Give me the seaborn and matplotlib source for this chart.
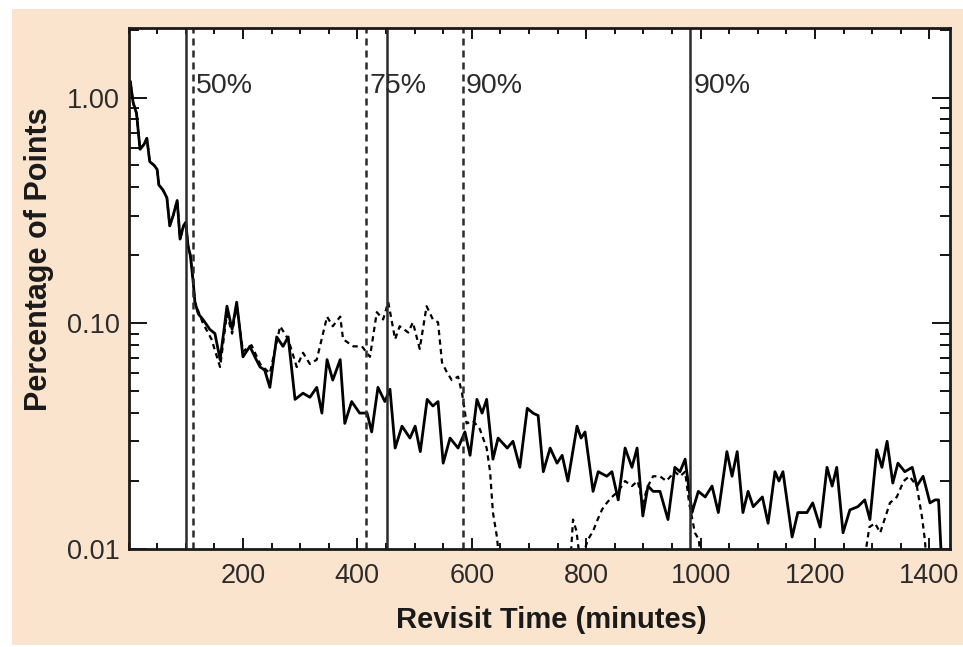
import numpy as np
import matplotlib
matplotlib.use("Agg")
import matplotlib.pyplot as plt
from matplotlib.patches import Rectangle
from matplotlib.ticker import MultipleLocator, FixedLocator, FixedFormatter, LogLocator, NullFormatter
import seaborn as sns

# ── data ─────────────────────────────────────────────────────────────────────
# head of the curve (both series overlap here)
head_t = [0, 3, 8, 14, 20, 27, 32, 37, 45, 50, 53, 60, 67, 72, 78, 85, 90,
          96, 100, 104, 108, 113, 116]
head_v = [1.10, 1.18, 0.95, 0.85, 0.59, 0.62, 0.66, 0.52, 0.50, 0.48, 0.41,
          0.39, 0.36, 0.27, 0.30, 0.35, 0.236, 0.27, 0.28, 0.22, 0.20, 0.152,
          0.124]

solid_t = [122, 130, 142, 151, 160, 166, 172, 181, 189, 200, 212, 222, 230,
           238, 247, 259, 270, 279, 291, 305, 317, 329, 338, 347, 357, 370,
           378, 390, 404, 417, 425, 436, 448, 457, 466, 478, 492, 501, 510,
           522, 532, 541, 550, 562, 576, 588, 597, 609, 618, 626, 637, 646,
           662, 672, 684, 697, 707, 716, 725, 737, 749, 758, 768, 784, 791,
           798, 812, 821, 836, 845, 856, 868, 880, 889, 899, 908, 917, 929,
           943, 955, 964, 973, 985, 996, 1008, 1020, 1031, 1046, 1055, 1064,
           1074, 1083, 1092, 1108, 1118, 1130, 1137, 1144, 1160, 1170, 1186,
           1196, 1209, 1221, 1230, 1238, 1249, 1261, 1275, 1287, 1296, 1308,
           1317, 1326, 1336, 1345, 1357, 1370, 1378, 1389, 1401, 1410, 1416,
           1422]
solid_v = [0.110, 0.104, 0.094, 0.090, 0.069, 0.090, 0.119, 0.094, 0.124,
           0.071, 0.079, 0.070, 0.064, 0.062, 0.052, 0.087, 0.079, 0.087,
           0.046, 0.049, 0.047, 0.052, 0.040, 0.069, 0.056, 0.069, 0.036,
           0.045, 0.040, 0.040, 0.033, 0.052, 0.045, 0.051, 0.028, 0.035,
           0.031, 0.035, 0.027, 0.046, 0.043, 0.045, 0.024, 0.031, 0.028,
           0.033, 0.026, 0.046, 0.040, 0.046, 0.025, 0.031, 0.028, 0.030,
           0.023, 0.042, 0.040, 0.039, 0.022, 0.028, 0.024, 0.026, 0.020,
           0.035, 0.031, 0.033, 0.018, 0.022, 0.021, 0.022, 0.0165, 0.028,
           0.023, 0.028, 0.014, 0.019, 0.018, 0.018, 0.0135, 0.023, 0.022,
           0.025, 0.0145, 0.018, 0.017, 0.019, 0.0145, 0.027, 0.021, 0.027,
           0.0145, 0.018, 0.0154, 0.017, 0.013, 0.022, 0.020, 0.022, 0.0113,
           0.0145, 0.0145, 0.016, 0.0125, 0.023, 0.019, 0.023, 0.0118,
           0.0149, 0.0154, 0.0165, 0.0135, 0.0275, 0.023, 0.030, 0.0196,
           0.024, 0.022, 0.023, 0.019, 0.021, 0.016, 0.0165, 0.0165, 0.008]

dash_t = [130, 145, 160, 172, 181, 189, 200, 215, 230, 247, 265, 279, 294,
          305, 317, 329, 347, 357, 370, 375, 393, 408, 422, 434, 445, 454,
          466, 474, 489, 497, 509, 521, 532, 541, 548, 556, 565, 576, 583,
          591, 602, 614, 626, 632, 637, 644, 652, 770, 777, 783, 789, 795,
          803, 812, 820, 828, 836, 845, 856, 868, 880, 890, 899, 908, 917,
          929, 940, 955, 964, 973, 980, 990, 997, 1003, 1280, 1295, 1305,
          1314, 1331, 1343, 1355, 1365, 1378, 1387, 1392, 1398]
dash_v = [0.100, 0.085, 0.064, 0.110, 0.090, 0.120, 0.075, 0.080, 0.066,
          0.060, 0.097, 0.085, 0.064, 0.074, 0.066, 0.069, 0.107, 0.097,
          0.107, 0.085, 0.079, 0.079, 0.071, 0.112, 0.104, 0.124, 0.085,
          0.097, 0.091, 0.101, 0.077, 0.119, 0.104, 0.101, 0.067, 0.061,
          0.056, 0.058, 0.049, 0.036, 0.037, 0.034, 0.028, 0.022, 0.0145,
          0.0113, 0.007, 0.007, 0.0135, 0.012, 0.009, 0.0095, 0.011, 0.012,
          0.0135, 0.015, 0.016, 0.017, 0.018, 0.020, 0.019, 0.020, 0.016,
          0.019, 0.021, 0.021, 0.020, 0.022, 0.021, 0.022, 0.016, 0.0118,
          0.011, 0.007, 0.007, 0.0125, 0.013, 0.0118, 0.016, 0.017, 0.020,
          0.021, 0.019, 0.0139, 0.011, 0.007]

solid_marks = [100, 452, 981]
dashed_marks = [112, 415, 585]
mark_labels = ["50%", "75%", "90%", "90%"]
mark_label_t = [118, 422, 590, 987]

# ── style ────────────────────────────────────────────────────────────────────
PEACH = "#fbe4cd"
INK = "#2b2b2b"
sns.set_style("ticks")
plt.rcParams["font.family"] = ["Liberation Sans", "DejaVu Sans"]

fig = plt.figure(figsize=(9.63, 6.47), dpi=100)
fig.patch.set_facecolor("white")
fig.patches.append(Rectangle((0.0125, 0.003), 0.9875, 0.983,
                             transform=fig.transFigure, facecolor=PEACH,
                             edgecolor="none", zorder=-10))
ax = fig.add_axes([0.1335, 0.1515, 0.853, 0.805])
ax.set_facecolor("white")

sns.lineplot(x=head_t + solid_t, y=head_v + solid_v, ax=ax, color="black",
             lw=2.0, estimator=None)
sns.lineplot(x=head_t + dash_t, y=head_v + dash_v, ax=ax, color="black",
             lw=1.6, estimator=None, linestyle=(0, (2.4, 1.9)))

for t in solid_marks:
    ax.axvline(t, color=INK, lw=1.8)
for t in dashed_marks:
    ax.axvline(t, color=INK, lw=1.8, linestyle=(0, (2.8, 2.0)))
for t, lab in zip(mark_label_t, mark_labels):
    ax.text(t, 1.13, lab, ha="left", va="center", fontsize=20.5, color=INK)

ax.set_yscale("log")
ax.set_xlim(0, 1436)
ax.set_ylim(0.01, 2.03)

ax.xaxis.set_major_locator(FixedLocator([200, 400, 600, 800, 1000, 1200, 1400]))
ax.xaxis.set_minor_locator(MultipleLocator(50))
ax.yaxis.set_major_locator(FixedLocator([0.01, 0.1, 1.0]))
ax.yaxis.set_major_formatter(FixedFormatter(["0.01", "0.10", "1.00"]))
ax.yaxis.set_minor_locator(LogLocator(base=10, subs=np.arange(2, 10)))
ax.yaxis.set_minor_formatter(NullFormatter())

ax.tick_params(which="both", direction="in", top=True, right=True,
               colors="black", labelcolor=INK, labelsize=19.5, width=1.3)
ax.tick_params(axis="x", which="major", length=8, pad=10)
ax.tick_params(axis="x", which="minor", length=4)
ax.tick_params(axis="y", which="major", length=13, pad=6)
ax.tick_params(axis="y", which="minor", length=7)
for sp in ax.spines.values():
    sp.set_linewidth(2.0)
    sp.set_edgecolor("#1a1a1a")

ax.set_xlabel("")
ax.set_ylabel("")
fig.text(0.573, 0.042, "Revisit Time (minutes)", ha="center", va="center",
         fontsize=21, fontweight="bold", color="#1a1a1a")
fig.text(0.041, 0.600, "Percentage of Points", ha="center", va="center",
         rotation=90, fontsize=22, fontweight="bold", color="#1a1a1a")

fig.savefig("out.png", dpi=100, facecolor=fig.get_facecolor())
